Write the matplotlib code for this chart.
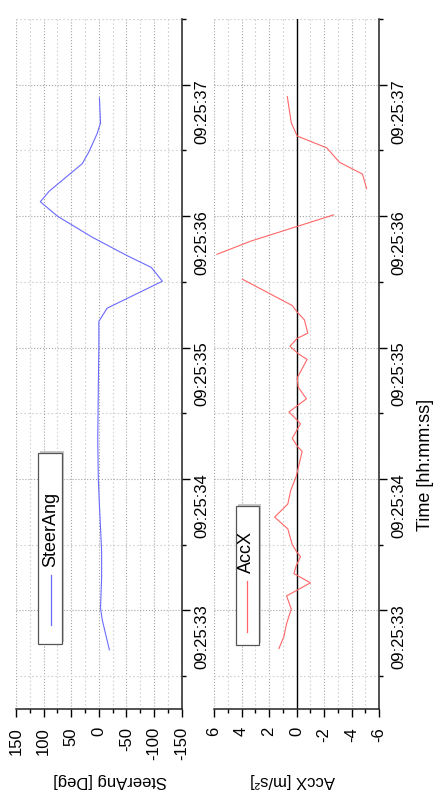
import matplotlib
matplotlib.use('Agg')
import matplotlib.pyplot as plt
import matplotlib.dates as mdates
import numpy as np
import pandas as pd
from matplotlib.patches import Rectangle
from matplotlib.ticker import MultipleLocator

plt.rcParams['font.family'] = ['Liberation Sans', 'DejaVu Sans']
plt.rcParams['font.size'] = 12
plt.rcParams['axes.unicode_minus'] = False

T0 = pd.Timestamp('2015-01-01 09:25:00')

# seconds after 09:25:00
steer_sec = [32.70, 32.93, 33.02, 33.25, 33.45, 33.80, 34.00, 34.30, 34.70, 35.00,
             35.20, 35.30, 35.505, 35.61, 35.70, 35.84, 36.00, 36.11, 36.19, 36.40,
             36.49, 36.63, 36.71, 36.90]
steer_deg = [-19, -6, -3, -5, -5, -1, 1, 2, 1, 0,
             0, -15, -115, -95, -51, 12, 75, 106, 90, 30,
             18, 3, -3, -1]

acc_sec = [32.71, 32.80, 32.90, 33.01, 33.11, 33.21, 33.28, 33.34, 33.41, 33.44,
           33.50, 33.62, 33.71, 33.81, 33.91, 34.02, 34.21, 34.25, 34.31, 34.42,
           34.46, 34.51, 34.61, 34.70, 34.77, 34.91, 34.95, 35.01, 35.07, 35.11,
           35.21, 35.27, 35.32, 35.52, 35.61, 35.71, 35.81, 36.01, 36.11, 36.21,
           36.32, 36.41, 36.52, 36.61, 36.71, 36.91]
acc_ms2 = [1.28, 0.92, 0.72, 0.38, 0.72, -1.01, 0.19, 0.02, -0.29, -0.05,
           0.31, 0.63, 1.59, 0.63, 0.43, 0.02, -0.41, -0.05, 0.31, -0.29,
           0.07, 0.55, -0.72, -0.12, -0.05, -0.77, -0.17, 0.48, -0.05, -0.82,
           -0.58, -0.05, 0.31, 3.93, 8.0, 5.78, 3.33, -2.7, -7.5, -5.1,
           -4.8, -3.13, -2.2, -0.05, 0.38, 0.67]


def toTime(sec):
    sec = np.atleast_1d(np.asarray(sec, dtype=float))
    return (T0 + pd.to_timedelta(sec, unit='s')).to_numpy()


def setupAxis(ax, vmax, vmajor, vminor, label, label_x):
    # chart is turned 90 deg: values run right-to-left, time runs upwards
    ax.set_xlim(vmax, -vmax)
    ax.set_ylim(toTime(32.25)[0], toTime(37.5)[0])

    for side in ('top', 'left'):
        ax.spines[side].set_visible(False)
    for side in ('bottom', 'right'):
        ax.spines[side].set_color('#222222')
        ax.spines[side].set_linewidth(1.1)

    ax.xaxis.set_major_locator(MultipleLocator(vmajor))
    ax.xaxis.set_minor_locator(MultipleLocator(vminor))
    ax.yaxis.set_major_locator(mdates.SecondLocator())
    ax.yaxis.set_minor_locator(mdates.MicrosecondLocator(interval=500000))
    ax.yaxis.set_major_formatter(mdates.DateFormatter('%H:%M:%S'))

    ax.yaxis.tick_right()
    ax.tick_params(axis='x', which='major', direction='out', length=6, width=1,
                   labelrotation=90, pad=7)
    ax.tick_params(axis='x', which='minor', direction='out', length=3, width=1)
    ax.tick_params(axis='y', which='major', direction='out', length=6, width=1,
                   labelrotation=90, pad=3)
    ax.tick_params(axis='y', which='minor', direction='out', length=3, width=1)

    ax.grid(which='major', color='#a4a4a4', linestyle=':', linewidth=0.8)
    ax.grid(which='minor', color='#d2d2d2', linestyle=(0, (1.5, 2)), linewidth=0.8)
    ax.set_axisbelow(True)

    ax.set_xlabel(label, rotation=180, va='center', ha='center')
    ax.xaxis.set_label_coords(label_x, -0.104)


def rotatedLegend(ax, line, x0, y0, w, h, line_x, line_y, text_y):
    # Origin-style legend box with shadow, turned with the chart
    ax.add_patch(Rectangle((x0 + 0.012, y0 + 0.003), w, h, transform=ax.transAxes,
                           facecolor='#c8c8c8', edgecolor='none', zorder=5))
    ax.add_patch(Rectangle((x0, y0), w, h, transform=ax.transAxes,
                           facecolor='white', edgecolor='#555555', linewidth=0.9, zorder=6))
    ax.plot([line_x, line_x], line_y, transform=ax.transAxes, color=line.get_color(),
            linewidth=0.9, zorder=7)
    ax.text(line_x, text_y, line.get_label(), transform=ax.transAxes, rotation=90,
            ha='center', va='bottom', fontsize=13, zorder=7)


fig = plt.figure(figsize=(4.34, 8.05), dpi=100)
ax_steer = fig.add_axes([0.0369, 0.1193, 0.3818, 0.857])
ax_acc = fig.add_axes([0.4931, 0.1193, 0.3802, 0.857])

# SteerAng panel
setupAxis(ax_steer, 150, 50, 25, 'SteerAng [Deg]', 0.567)
steer_line, = ax_steer.plot(steer_deg, toTime(steer_sec), color='#6a6aff',
                            linewidth=0.8, label='SteerAng')
rotatedLegend(ax_steer, steer_line, 0.133, 0.094, 0.145, 0.277, 0.209,
              [0.122, 0.194], 0.206)

# AccX panel, points beyond the scale are dropped like in the source plot
setupAxis(ax_acc, 6, 2, 1, 'AccX [m/s\u00b2]', 0.476)
acc = np.array(acc_ms2)
acc_shown = np.where(np.abs(acc) > 6, np.nan, acc)
ax_acc.axvline(0, color='black', linewidth=1.0, zorder=2)
acc_line, = ax_acc.plot(acc_shown, toTime(acc_sec), color='#ff6666',
                        linewidth=0.8, label='AccX')
rotatedLegend(ax_acc, acc_line, 0.133, 0.093, 0.140, 0.201, 0.198,
              [0.112, 0.186], 0.197)

ax_acc.yaxis.set_label_position('right')
ax_acc.set_ylabel('Time [hh:mm:ss]', rotation=90, va='center', ha='center', fontsize=13)
ax_acc.yaxis.set_label_coords(1.279, 0.354)

fig.savefig('out.png', dpi=100)
